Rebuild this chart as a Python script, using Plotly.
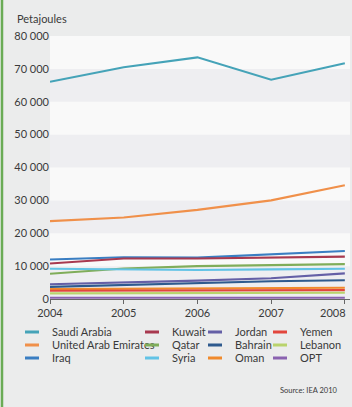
import plotly.graph_objects as go

years = [2004, 2005, 2006, 2007, 2008]
year_labels = ["2004", "2005", "2006", "2007", "2008"]

countries = ["Saudi Arabia", "United Arab Emirates", "Iraq", "Kuwait", "Qatar", "Syria",
             "Jordan", "Bahrain", "Oman", "Yemen", "Lebanon", "OPT"]

saudi_arabia = [66100, 70500, 73500, 66700, 71700]
uae = [23700, 24800, 27100, 30000, 34600]
iraq = [12000, 12700, 12600, 13600, 14600]
kuwait = [10800, 12300, 12300, 12600, 12900]
qatar = [7700, 9300, 10000, 10400, 10600]
syria = [9200, 9000, 8800, 9000, 9200]
jordan = [4500, 5000, 5600, 6300, 7800]
bahrain = [3700, 4300, 4900, 5400, 5700]
oman = [3000, 3100, 3200, 3300, 3400]
yemen = [2500, 2600, 2600, 2700, 2700]
lebanon = [1700, 1800, 1800, 1900, 1900]
opt = [400, 400, 400, 400, 400]

series = [saudi_arabia, uae, iraq, kuwait, qatar, syria, jordan, bahrain, oman, yemen, lebanon, opt]

colors = ["#45a3b8", "#f0904a", "#3a7ec2", "#a8394f", "#80ad5a", "#62c3e6",
          "#645fa6", "#2e5a8e", "#f08a2c", "#e2463c", "#b9d36c", "#8a62b0"]

y_ticks = [0, 10000, 20000, 30000, 40000, 50000, 60000, 70000, 80000]
y_tick_labels = ["0", "10 000", "20 000", "30 000", "40 000", "50 000", "60 000", "70 000", "80 000"]

W, H = 352, 407
ML, MR, MT, MB = 50, 2, 36, 108
PW, PH = W - ML - MR, H - MT - MB


def px_to_paper(px, py):
    return (px - ML) / PW, 1 - (py - MT) / PH


fig = go.Figure()

for name, vals, col in zip(countries, series, colors):
    fig.add_trace(go.Scatter(x=years, y=vals, mode="lines", name=name,
                             line=dict(color=col, width=2.1), showlegend=False))

# legend entries: one legend per entry so the columns can be placed freely
col_x = [12, 132, 195, 260]
row_y = [332, 345, 358]
layout_legends = {}
for i, (name, col) in enumerate(zip(countries, colors)):
    key = "legend" if i == 0 else f"legend{i + 1}"
    fig.add_trace(go.Scatter(x=[None], y=[None], mode="markers", name=name,
                             marker=dict(symbol="line-ew", size=10,
                                         line=dict(color=col, width=3)),
                             legend=key, showlegend=True, hoverinfo="skip"))
    c, r = divmod(i, 3)
    lx, ly = px_to_paper(col_x[c], row_y[r])
    layout_legends[key] = dict(
        x=lx, y=ly,
        xanchor="left", yanchor="middle",
        bgcolor="rgba(0,0,0,0)", borderwidth=0, itemwidth=30,
        font=dict(family="Lato", size=11, color="#3a3a3a"),
    )

# alternating background bands
shapes = []
for lo in range(10000, 80000, 20000):
    shapes.append(dict(type="rect", xref="paper", yref="y", x0=0, x1=1,
                       y0=lo, y1=lo + 10000, fillcolor="#f9f9f9",
                       line=dict(width=0), layer="below"))
# green frame on the left
gx, _ = px_to_paper(2, 0)
shapes.append(dict(type="line", xref="paper", yref="paper",
                   x0=gx, x1=gx, y0=-MB / PH, y1=1 + MT / PH,
                   line=dict(color="#6aab55", width=2.5)))

ax1, ay1 = px_to_paper(15, 18)
ax2, ay2 = px_to_paper(340, 390)
ax3, ay3 = px_to_paper(348, 312)

fig.update_layout(
    width=W, height=H,
    margin=dict(l=ML, r=MR, t=MT, b=MB, autoexpand=False),
    paper_bgcolor="#ebecec",
    plot_bgcolor="#eeeef1",
    font=dict(family="Lato", size=11, color="#3a3a3a"),
    shapes=shapes,
    annotations=[
        dict(text="Petajoules", xref="paper", yref="paper",
             x=ax1, y=ay1, xanchor="left", yanchor="middle",
             showarrow=False, font=dict(family="Lato", size=11, color="#3a3a3a")),
        dict(text="Source: IEA 2010", xref="paper", yref="paper",
             x=ax2, y=ay2, xanchor="right", yanchor="middle",
             showarrow=False, font=dict(family="Lato", size=7.5, color="#3a3a3a")),
        # last year label, pulled inside the chart edge as in the original
        dict(text=year_labels[-1], xref="paper", yref="paper",
             x=ax3, y=ay3, xanchor="right", yanchor="middle",
             showarrow=False, font=dict(family="Lato", size=11, color="#3a3a3a")),
    ],
    **layout_legends,
)

fig.update_xaxes(range=[2004, 2008.07], tickvals=years,
                 ticktext=year_labels[:-1] + [""],
                 showgrid=False, zeroline=False, showline=True, linecolor="#666666",
                 linewidth=1, ticks="outside", ticklen=4, tickcolor="#666666",
                 automargin=False,
                 tickfont=dict(family="Lato", size=11, color="#3a3a3a"))
fig.update_yaxes(range=[0, 80000], tickvals=y_ticks, ticktext=y_tick_labels,
                 showgrid=False, zeroline=False, showline=False, ticks="",
                 automargin=False,
                 tickfont=dict(family="Lato", size=11, color="#3a3a3a"))

fig.write_html("out.html", config={"displayModeBar": False},
               post_script="document.body.style.margin='0';")
